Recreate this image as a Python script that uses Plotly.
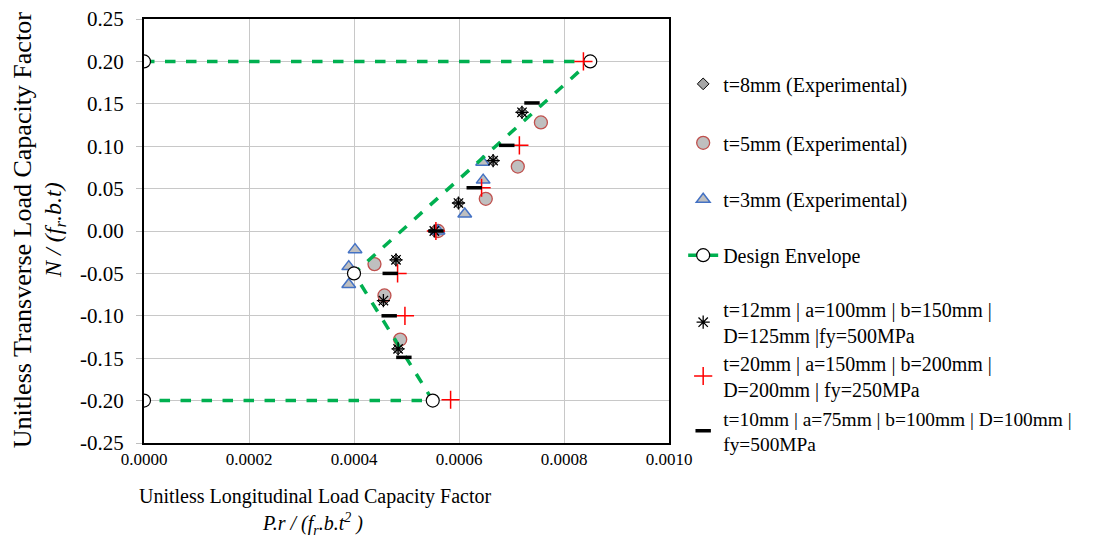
import plotly.graph_objects as go

# ---------------- data ----------------
env_x = [0.0, 0.00085, 0.00040, 0.00055, 0.0]
env_y = [0.20, 0.20, -0.05, -0.20, -0.20]

t12_x = [0.000720, 0.000665, 0.000599, 0.000553, 0.000480, 0.000456, 0.000484]
t12_y = [0.140, 0.083, 0.033, 0.000, -0.034, -0.082, -0.139]

t8_x = [0.000720, 0.000665, 0.000599, 0.000553, 0.000480, 0.000456, 0.000484]
t8_y = [0.140, 0.083, 0.033, 0.000, -0.034, -0.082, -0.139]

t5_x = [0.000756, 0.000712, 0.000651, 0.000560, 0.000439, 0.000458, 0.000488]
t5_y = [0.128, 0.076, 0.038, 0.000, -0.039, -0.076, -0.128]

t3_x = [0.000645, 0.000646, 0.000611, 0.000560, 0.000402, 0.000390, 0.000390]
t3_y = [0.081, 0.060, 0.020, 0.000, -0.022, -0.042, -0.063]

t20_x = [0.000837, 0.000715, 0.000643, 0.000556, 0.000483, 0.000497, 0.000584]
t20_y = [0.200, 0.101, 0.051, 0.000, -0.050, -0.100, -0.199]

t10_x = [0.000739, 0.000691, 0.000629, 0.000556, 0.000469, 0.000467, 0.000495]
t10_y = [0.151, 0.101, 0.051, 0.000, -0.050, -0.100, -0.149]

x_ticks = [0.0, 0.0002, 0.0004, 0.0006, 0.0008, 0.0010]
x_labels = ["0.0000", "0.0002", "0.0004", "0.0006", "0.0008", "0.0010"]
y_ticks = [0.25, 0.20, 0.15, 0.10, 0.05, 0.0, -0.05, -0.10, -0.15, -0.20, -0.25]
y_labels = ["0.25", "0.20", "0.15", "0.10", "0.05", "0.00", "-0.05", "-0.10", "-0.15", "-0.20", "-0.25"]

names = [
    "t=8mm (Experimental)",
    "t=5mm (Experimental)",
    "t=3mm (Experimental)",
    "Design Envelope",
    "t=12mm | a=100mm | b=150mm |<br>D=125mm |fy=500MPa",
    "t=20mm | a=150mm | b=200mm |<br>D=200mm | fy=250MPa",
    "t=10mm | a=75mm | b=100mm | D=100mm |<br>fy=500MPa",
]
legend_ids = ["legend", "legend2", "legend3", "legend4", "legend5", "legend6", "legend7"]
legend_y = [0.847, 0.708, 0.575, 0.443, 0.285, 0.158, 0.028]
legend_fs = [20, 20, 20, 20, 20, 20, 19.4]

FONT = "Liberation Serif, Times New Roman, serif"

fig = go.Figure()

fig.add_trace(go.Scatter(x=t8_x, y=t8_y, mode="markers", name=names[0], legend=legend_ids[0],
                         marker=dict(symbol="diamond", size=9, color="#a6a6a6",
                                     line=dict(color="#000000", width=1))))
fig.add_trace(go.Scatter(x=t5_x, y=t5_y, mode="markers", name=names[1], legend=legend_ids[1],
                         marker=dict(symbol="circle", size=13, color="#bfbfbf",
                                     line=dict(color="#c0504d", width=1.3))))
fig.add_trace(go.Scatter(x=t3_x, y=t3_y, mode="markers", name=names[2], legend=legend_ids[2],
                         marker=dict(symbol="triangle-up", size=12, color="#bfbfbf",
                                     line=dict(color="#4472c4", width=1.5))))
fig.add_trace(go.Scatter(x=env_x, y=env_y, mode="lines+markers", name=names[3], legend=legend_ids[3],
                         line=dict(color="#00b050", width=3.5, dash="dash"),
                         marker=dict(symbol="circle", size=13, color="#ffffff",
                                     line=dict(color="#000000", width=1.2))))
fig.add_trace(go.Scatter(x=t12_x, y=t12_y, mode="markers", name=names[4], legend=legend_ids[4],
                         marker=dict(symbol="asterisk-open", size=11, color="#000000",
                                     line=dict(color="#000000", width=1.3))))
fig.add_trace(go.Scatter(x=t20_x, y=t20_y, mode="markers", name=names[5], legend=legend_ids[5],
                         marker=dict(symbol="cross-thin-open", size=13, color="#ff0000",
                                     line=dict(color="#ff0000", width=1.5))))
fig.add_trace(go.Scatter(x=t10_x, y=t10_y, mode="markers", name=names[6], legend=legend_ids[6],
                         marker=dict(symbol="line-ew-open", size=11, color="#000000",
                                     line=dict(color="#1a1a1a", width=3.5))))

layout_legends = {}
for lid, ly, fs in zip(legend_ids, legend_y, legend_fs):
    layout_legends[lid] = dict(x=1.027, y=ly, xanchor="left", yanchor="middle",
                               bgcolor="rgba(0,0,0,0)", borderwidth=0,
                               font=dict(family=FONT, size=fs, color="#000000"))

fig.update_layout(
    width=1082, height=530,
    margin=dict(l=136, r=421, t=11, b=95),
    paper_bgcolor="white", plot_bgcolor="white",
    font=dict(family=FONT, color="#000000"),
    showlegend=True,
    xaxis=dict(range=[0, 0.0010], tickvals=x_ticks, ticktext=x_labels,
               showgrid=True, gridcolor="#c8c8c8", gridwidth=1,
               showline=True, linecolor="#000000", linewidth=2, mirror=True,
               ticks="", zeroline=False, automargin=False, ticklabeloverflow="allow",
               tickfont=dict(family=FONT, size=17, color="#000000")),
    yaxis=dict(range=[-0.25, 0.25], tickvals=y_ticks, ticktext=y_labels,
               showgrid=True, gridcolor="#c8c8c8", gridwidth=1,
               showline=True, linecolor="#000000", linewidth=2, mirror=True,
               ticks="outside", ticklen=6, tickcolor="#bfbfbf", zeroline=False,
               automargin=False, ticklabelstandoff=8, ticklabeloverflow="allow",
               tickfont=dict(family=FONT, size=21, color="#000000")),
    annotations=[
        dict(text="Unitless Transverse Load Capacity Factor", xref="paper", yref="paper",
             x=-0.232, y=0.502, textangle=-90, showarrow=False, xanchor="center", yanchor="middle",
             font=dict(family=FONT, size=26, color="#000000")),
        dict(text="<i>N / (f<sub>r</sub>.b.t)</i>", xref="paper", yref="paper",
             x=-0.17, y=0.502, textangle=-90, showarrow=False, xanchor="center", yanchor="middle",
             font=dict(family=FONT, size=24, color="#000000")),
        dict(text="Unitless Longitudinal Load Capacity Factor", xref="paper", yref="paper",
             x=0.325, y=-0.127, showarrow=False, xanchor="center", yanchor="middle",
             font=dict(family=FONT, size=20, color="#000000")),
        dict(text="<i>P.r / (f<sub>r</sub>.b.t<sup>2</sup> )</i>", xref="paper", yref="paper",
             x=0.32, y=-0.19, showarrow=False, xanchor="center", yanchor="middle",
             font=dict(family=FONT, size=20, color="#000000")),
    ],
    **layout_legends,
)

fig.write_html("out.html")
